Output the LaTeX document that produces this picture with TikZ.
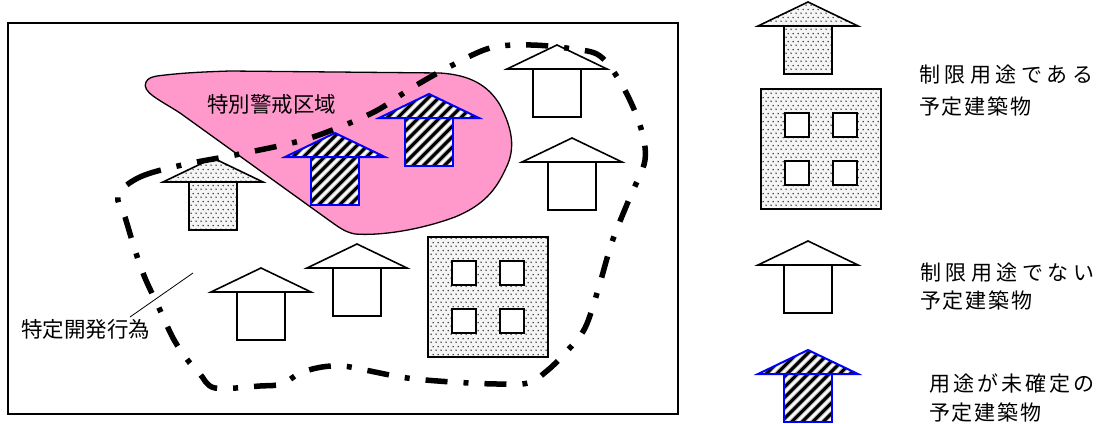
\documentclass[tikz,border=0pt]{standalone}
\usepackage{fontspec}
\setmainfont{Noto Sans CJK JP}
\usetikzlibrary{patterns}

\definecolor{pinkzone}{RGB}{255,153,204}

% staggered fine dots for buildings with a restricted use
\pgfdeclarepatternformonly{finedots}{\pgfqpoint{0pt}{0pt}}{\pgfqpoint{5pt}{8pt}}{\pgfqpoint{5pt}{8pt}}{
  \pgfpathcircle{\pgfqpoint{1.25pt}{2pt}}{0.9pt}
  \pgfpathcircle{\pgfqpoint{3.75pt}{6pt}}{0.9pt}
  \pgfusepath{fill}
}

% letter-spaced text
\makeatletter
\newcommand\spacedtext[2]{\@tfor\sp@c:=#2\do{\sp@c\kern#1\relax}}
\makeatother

\tikzset{
  outline/.style={draw=black, line width=1.6pt, line join=miter},
  blueline/.style={draw=blue, line width=2pt, line join=miter},
  dotfill/.style={preaction={fill=gray!8}, preaction={pattern=finedots, pattern color=black!80}},
  zone/.style={draw=black, line width=1.3pt, fill=pinkzone},
  boundary/.style={line width=5.5pt, dash pattern=on 22pt off 16pt on 5pt off 16pt},
  frame/.style={draw=black, line width=1.5pt},
  leader/.style={draw=black, line width=0.8pt},
  maplabel/.style={font=\fontsize{21.5}{25}\selectfont, inner sep=0pt, anchor=base west},
  keylabel/.style={font=\fontsize{21}{24}\selectfont, inner sep=0pt, anchor=base west},
  % house: roof base centred on the pic origin
  plainhouse/.pic={
    \path[outline, fill=white] (-24,0) rectangle (24,48);
    \path[outline, fill=white] (-50,0) -- (0,-24) -- (50,0) -- cycle;
  },
  dothouse/.pic={
    \path[outline, dotfill] (-24,0) rectangle (24,48);
    \path[outline, dotfill] (-50,0) -- (0,-24) -- (50,0) -- cycle;
  },
  stripehouse/.pic={
    \begin{scope}
      \clip (-24,0) rectangle (24,48) (-50,0) -- (0,-24) -- (50,0) -- cycle;
      \fill[white] (-50,-24) rectangle (50,48);
      \foreach \k in {-6,...,8} {
        \draw[gray!50, line width=5pt] (\k*10.5-80,80) -- (\k*10.5+80,-80);
        \draw[black, line width=3pt] (\k*10.5-80,80) -- (\k*10.5+80,-80);
      }
    \end{scope}
    \draw[blueline] (-24,0) rectangle (24,48);
    \draw[blueline] (-50,0) -- (0,-24) -- (50,0) -- cycle;
  },
  % block building: top-left corner on the pic origin
  block/.pic={
    \path[outline, dotfill] (0,0) rectangle (120,120);
    \foreach \wx in {24,72} \foreach \wy in {24,72}
      \path[outline, fill=white] (\wx,\wy) rectangle ++(24,24);
  },
}

\begin{document}
\begin{tikzpicture}[x=1pt, y=-1pt]
\useasboundingbox (0,0) rectangle (1110,423);

% map frame
\draw[frame] (8,23) rectangle (678,414);

% special warning zone
\path[zone] (157,76) .. controls (180,73) and (200,72) .. (230,71) -- (440,73)
  .. controls (470,75) and (488,85) .. (500,105)
  .. controls (512,128) and (516,148) .. (506,168)
  .. controls (496,190) and (484,205) .. (455,217)
  .. controls (420,230) and (380,236) .. (355,234)
  .. controls (345,232) and (340,228) .. (330,221)
  -- (180,113) .. controls (160,100) and (141,92) .. (146,82)
  .. controls (148,78) and (152,77) .. (157,76) -- cycle;
\node[maplabel] (zonelabel) at (207,112) {特別警戒区域};

% buildings on the site
\pic at (335,157) {stripehouse};
\pic at (429,118) {stripehouse};
\pic at (213,182) {dothouse};
\pic at (557,69) {plainhouse};
\pic at (572,162) {plainhouse};
\pic at (261,292) {plainhouse};
\pic at (357,268) {plainhouse};
\pic at (428,237) {block};

% boundary of the specified development
\draw[boundary] plot[smooth cycle, tension=0.55] coordinates {
  (118,195) (140,177) (182,165) (245,153) (310,138) (372,113) (410,89)
  (447,68) (490,48) (531,45) (573,49) (600,56) (622,85) (640,125)
  (645,160) (630,197) (612,242) (598,290) (585,328) (568,350) (548,370)
  (528,383) (497,384) (452,382) (407,378) (365,370) (343,366) (322,367)
  (300,373) (282,384) (260,386) (215,388) (200,374) (186,358) (173,338)
  (160,310) (145,278) (135,250) (125,217)};

\node[maplabel] (devlabel) at (21,337) {特定開発行為};
\coordinate (leadA) at (130,317);
\coordinate (leadB) at (193,273);
\draw[leader] (leadA) -- (leadB);

% key
\pic at (808,26) {dothouse};
\pic at (761,89) {block};
\node[keylabel] (keyAa) at (919,82) {\spacedtext{4.5pt}{制限用途である}};
\node[keylabel] (keyAb) at (919,114) {\spacedtext{1.8pt}{予定建築物}};

\pic at (808,265) {plainhouse};
\node[keylabel] (keyBa) at (920,280) {\spacedtext{4.5pt}{制限用途でない}};
\node[keylabel] (keyBb) at (920,308) {\spacedtext{1.8pt}{予定建築物}};

\pic at (808,374) {stripehouse};
\node[keylabel] (keyCa) at (929,391) {\spacedtext{3pt}{用途が未確定の}};
\node[keylabel] (keyCb) at (929,420) {\spacedtext{1.8pt}{予定建築物}};
\end{tikzpicture}
\end{document}
